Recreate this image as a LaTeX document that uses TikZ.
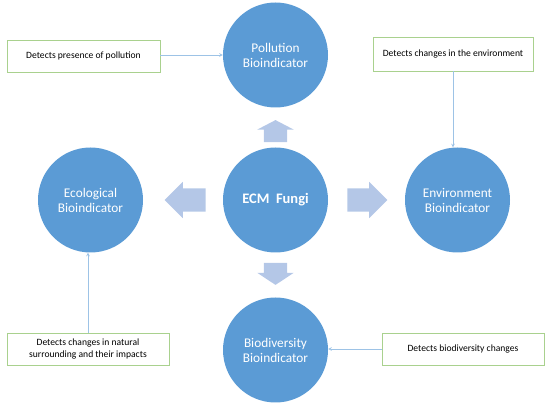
\documentclass[tikz,border=0pt]{standalone}
\usepackage{fontspec}
\setmainfont{Carlito}
\usetikzlibrary{positioning, arrows, shapes.arrows}
\definecolor{fungiblue}{HTML}{5B9BD5}
\definecolor{arrowblue}{HTML}{B4C7E7}
\definecolor{linkblue}{HTML}{9DC3E6}
\definecolor{boxgreen}{HTML}{A9D18E}

\tikzset{
  indicator/.style={circle, fill=fungiblue, text=white, minimum size=105pt, inner sep=0pt, align=center, font=\fontsize{13.3}{15}\selectfont},
  note/.style={draw=boxgreen, fill=white, line width=0.8pt, minimum height=32pt, inner sep=2pt, align=center, font=\fontsize{9.6}{11.5}\selectfont},
  bigarrow/.style={single arrow, fill=arrowblue, inner xsep=0pt, inner ysep=11.5pt, single arrow head extend=6.5pt},
  vbigarrow/.style={bigarrow, inner xsep=11.5pt, inner ysep=0pt},
  link/.style={->, >=stealth, draw=linkblue, line width=0.6pt}
}

\begin{document}
\begin{tikzpicture}[x=1pt, y=1pt]
      \useasboundingbox (0,0) rectangle (550,-409);
      \node[indicator, font=\bfseries\fontsize{14.5}{17}\selectfont] (ecm) at (275.5,-200) {ECM\ \ Fungi};
      \node[indicator] (poll) [above of=ecm, node distance=145pt] {Pollution\\Bioindicator};
      \node[indicator] (bio) [below of=ecm, node distance=150pt] {Biodiversity\\Bioindicator};
      \node[indicator] (eco) [left of=ecm, node distance=185pt] {Ecological\\Bioindicator};
      \node[indicator] (env) [right of=ecm, node distance=182pt] {Environment\\Bioindicator};

      \node[vbigarrow, shape border rotate=90, minimum height=22pt, single arrow tip angle=125] (topoll) [above=5pt of ecm] {};
      \node[vbigarrow, shape border rotate=270, minimum height=22pt, single arrow tip angle=113] (tobio) [below=10pt of ecm] {};
      \node[bigarrow, shape border rotate=180, minimum height=41pt] (toeco) [left=17pt of ecm] {};
      \node[bigarrow, minimum height=40pt] (toenv) [right=19pt of ecm] {};

      \node[note, minimum width=153pt] (pollnote) at (83.5,-56) {Detects presence of pollution};
      \node[note, minimum width=160pt, minimum height=34pt] (envnote) at (453,-54) {Detects changes in the environment};
      \node[note, minimum width=162pt] (econote) at (88,-349) {Detects changes in natural\\surrounding and their impacts};
      \node[note, minimum width=162pt] (bionote) at (463,-349) {Detects biodiversity changes};

      \draw[link] (pollnote.east |- poll.west) -- (poll.west);
      \draw[link] (envnote.south) -- (envnote.south |- env.north);
      \draw[link] (econote.north) -- (econote.north |- eco.south);
      \draw[link] (bionote.west) -- (bionote.west -| bio.east);
\end{tikzpicture}
\end{document}
